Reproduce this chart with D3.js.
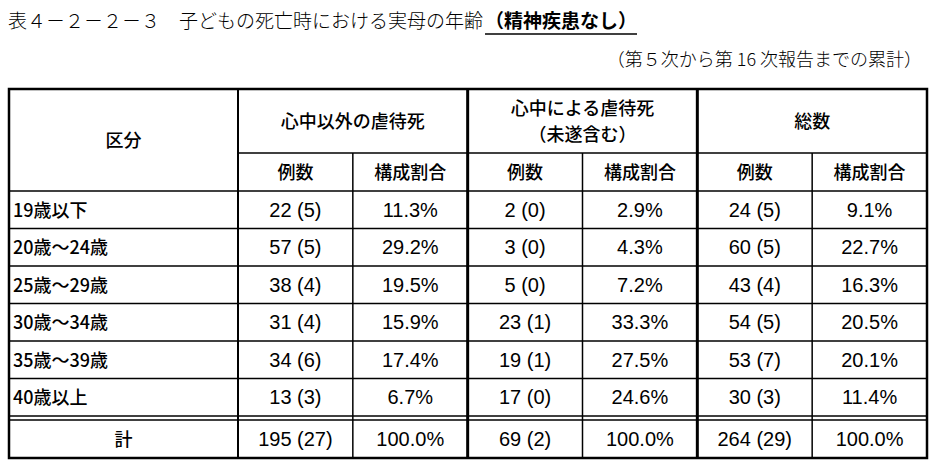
<!DOCTYPE html>
<html><head><meta charset="utf-8">
<script src="https://cdn.jsdelivr.net/npm/d3@7"></script>
<style>body{margin:0;background:#fff}</style>
</head><body><svg width="933" height="469"></svg>
<script>
var title = "表４－２－２－３　子どもの死亡時における実母の年齢";
var titleBold = "（精神疾患なし）";
var subtitle = "（第５次から第 16 次報告までの累計）";
var groups = ["心中以外の虐待死", "心中による虐待死\n（未遂含む）", "総数"];
var subHeads = ["例数", "構成割合"];
var ageLabels = ["19歳以下", "20歳～24歳", "25歳～29歳", "30歳～34歳", "35歳～39歳", "40歳以上", "計"];
var nonShinju = [[22,5],[57,5],[38,4],[31,4],[34,6],[13,3],[195,27]];
var nonShinjuPct = [11.3,29.2,19.5,15.9,17.4,6.7,100.0];
var shinju = [[2,0],[3,0],[5,0],[23,1],[19,1],[17,0],[69,2]];
var shinjuPct = [2.9,4.3,7.2,33.3,27.5,24.6,100.0];
var total = [[24,5],[60,5],[43,4],[54,5],[53,7],[30,3],[264,29]];
var totalPct = [9.1,22.7,16.3,20.5,20.1,11.4,100.0];

var svg = d3.select("svg");
var L = 9, R = 927, T = 89, H1 = 153, H2 = 191, B = 458, C0 = 238;
var serif = "'Noto Sans CJK JP', sans-serif";
var narrow = "'Liberation Sans Narrow', 'Liberation Sans', sans-serif";

var t1 = svg.append("text").attr("x", 8).attr("y", 28).attr("font-family", serif)
  .attr("font-size", 19).attr("font-weight", 300).text(title);
var w1 = t1.node().getBBox().width;
var tb = svg.append("text").attr("x", 8 + w1 + 2).attr("y", 28)
  .attr("font-family", serif).attr("font-size", 19).attr("font-weight", 700).text(titleBold);
var bb = tb.node().getBBox();
svg.append("line").attr("x1", bb.x).attr("x2", bb.x + bb.width)
  .attr("y1", 34).attr("y2", 34).attr("stroke", "#000").attr("stroke-width", 1.6);
svg.append("text").attr("x", 922).attr("y", 66).attr("text-anchor", "end")
  .attr("font-family", serif).attr("font-size", 18).attr("font-weight", 300).text(subtitle);

var cols = d3.range(6);
var x = d3.scaleBand().domain(cols).range([C0, R]);
var gx = d3.scaleBand().domain(d3.range(3)).range([C0, R]);
var y = d3.scaleBand().domain(d3.range(6)).range([H2, 416]);
var yRow = function(i){ return i < 6 ? y(i) : 420; };
var rowH = function(i){ return i < 6 ? y.bandwidth() : B - 420; };

function line(x1, y1, x2, y2, w){
  svg.append("line").attr("x1", x1).attr("y1", y1).attr("x2", x2).attr("y2", y2)
    .attr("stroke", "#000").attr("stroke-width", w);
}
line(C0, H1, R, H1, 1.5);
line(L, H2, R, H2, 1.5);
d3.range(1, 6).forEach(function(i){ line(L, yRow(i), R, yRow(i), 1.5); });
line(L, 416, R, 416, 1.5);
line(L, 420, R, 420, 1.5);
cols.forEach(function(c){ if (c % 2 === 1) line(x(c), H1, x(c), B, 1.5); });
d3.range(3).forEach(function(g){ line(gx(g), T, gx(g), B, g === 0 ? 2 : 3); });
svg.append("rect").attr("x", L).attr("y", T).attr("width", R - L).attr("height", B - T)
  .attr("fill", "none").attr("stroke", "#000").attr("stroke-width", 2.5);

svg.append("text").attr("x", (L + C0) / 2).attr("y", (T + H2) / 2 + 7).attr("text-anchor", "middle")
  .attr("font-family", serif).attr("font-size", 18).attr("font-weight", 500).text("区分");
groups.forEach(function(g, i){
  var parts = g.split("\n");
  var cy = (T + H1) / 2 + 7 - (parts.length - 1) * 13;
  parts.forEach(function(p, j){
    svg.append("text").attr("x", gx(i) + gx.bandwidth() / 2).attr("y", cy + j * 26)
      .attr("text-anchor", "middle").attr("font-family", serif).attr("font-size", 18)
      .attr("font-weight", 500).text(p);
  });
});
cols.forEach(function(c){
  svg.append("text").attr("x", x(c) + x.bandwidth() / 2).attr("y", (H1 + H2) / 2 + 7)
    .attr("text-anchor", "middle").attr("font-family", serif).attr("font-size", 18)
    .attr("font-weight", 500).text(subHeads[c % 2]);
});

var counts = [nonShinju, shinju, total], pcts = [nonShinjuPct, shinjuPct, totalPct];
ageLabels.forEach(function(a, i){
  var cy = yRow(i) + rowH(i) / 2 + 7;
  svg.append("text").attr("x", i === 6 ? (L + C0) / 2 : L + 4).attr("y", cy)
    .attr("text-anchor", i === 6 ? "middle" : "start")
    .attr("font-family", serif).attr("font-size", 18).attr("font-weight", 500).text(a);
  d3.range(3).forEach(function(g){
    var v = counts[g][i];
    svg.append("text").attr("x", x(g * 2) + x.bandwidth() / 2).attr("y", cy)
      .attr("text-anchor", "middle").attr("font-family", narrow).attr("font-size", 20)
      .text(v[0] + " (" + v[1] + ")");
    svg.append("text").attr("x", x(g * 2 + 1) + x.bandwidth() / 2).attr("y", cy)
      .attr("text-anchor", "middle").attr("font-family", narrow).attr("font-size", 20)
      .text(pcts[g][i].toFixed(1) + "%");
  });
});
</script></body></html>
